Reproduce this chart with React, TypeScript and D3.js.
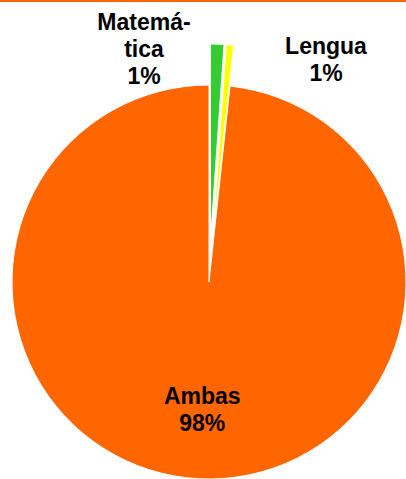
import React from 'react';
import * as d3 from 'd3';

const categories = ['Matemática', 'Lengua', 'Ambas'];
const values = [1.1, 0.6, 98.3];
const labelLines = [['Matemá-', 'tica', '1%'], ['Lengua', '1%'], ['Ambas', '98%']];
const colors = ['#33CC33', '#FFFF00', '#FF6600'];

const W = 406;
const H = 479;

const App: React.FC = () => {
  const cx = 209;
  const cy = 282;
  const r = 197;
  const explode = 41;

  const pie = d3.pie<number>().sort(null).value((d) => d);
  const arcs = pie(values);
  const arc = d3.arc<d3.PieArcDatum<number>>().innerRadius(0).outerRadius(r);

  // labels: first two sit outside above the pie, the big one inside
  const labelPos = (i: number, a: d3.PieArcDatum<number>) => {
    if (i === 0) return [144, 30];
    if (i === 1) return [326, 54];
    const mid = (a.startAngle + a.endAngle) / 2;
    const rho = r * 0.64;
    return [cx + Math.sin(mid) * rho, cy - Math.cos(mid) * rho - 4];
  };

  return (
    <svg width={W} height={H} style={{ position: 'absolute', left: 0, top: 0, background: '#fff' }}>
      <rect x={0} y={0} width={W} height={2} fill="#FF6600" />
      <g transform={`translate(${cx},${cy})`}>
        {arcs.map((a, i) => {
          const mid = (a.startAngle + a.endAngle) / 2;
          const off = i < 2 ? explode : 0;
          const dx = Math.sin(mid) * off;
          const dy = -Math.cos(mid) * off;
          return (
            <path
              key={categories[i]}
              d={arc(a) || ''}
              transform={`translate(${dx},${dy})`}
              fill={colors[i]}
              stroke="#fff"
              strokeWidth={1}
            />
          );
        })}
      </g>
      {arcs.map((a, i) => {
        const [x, y] = labelPos(i, a);
        return (
          <text
            key={'l' + i}
            x={x}
            y={y}
            textAnchor="middle"
            fontFamily="Arial, 'Liberation Sans', sans-serif"
            fontWeight="bold"
            fontSize={23}
            fill="#000"
          >
            {labelLines[i].map((t, j) => (
              <tspan key={j} x={x} dy={j === 0 ? 0 : 27}>
                {t}
              </tspan>
            ))}
          </text>
        );
      })}
    </svg>
  );
};

export default App;
